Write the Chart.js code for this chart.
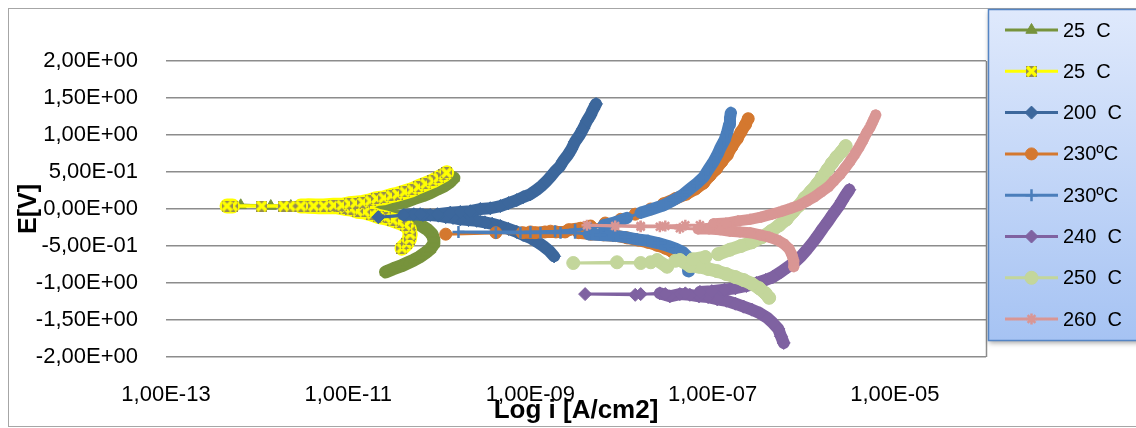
<!DOCTYPE html>
<html>
<head>
<meta charset="utf-8">
<script src="https://cdn.jsdelivr.net/npm/chart.js@4.4.1/dist/chart.umd.min.js"></script>
<style>
  html, body { margin: 0; padding: 0; background: #ffffff; overflow: hidden; }
  canvas { display: block; }
</style>
</head>
<body>
<canvas id="tafel" width="1136" height="428"></canvas>
<script>
// Potentiodynamic polarization curves: potential E [V] against current density (log scale).
// Each series runs cathodic branch -> low-current region near Ecorr -> anodic branch.

const seriesNames = ['25  C', '25  C', '200  C', '230\u00BAC', '230\u00BAC', '240  C', '250  C', '260  C'];

// log10 of current density [A/cm2] and potential [V]
const logI_25a = [-10.59,-10.51,-10.42,-10.35,-10.28,-10.22,-10.15,-10.10,-10.06,-10.06,
  -10.08,-10.13,-10.19,-10.27,-10.35,-10.42,-10.51,-10.60,-10.69,-10.78,-10.86,
  -11.03,-11.25,-11.52,-11.85,-12.18,
  -11.63,-11.30,-11.08,-10.92,-10.78,-10.64,-10.51,-10.39,-10.28,-10.18,-10.10,-10.02,-9.95,-9.89,-9.84];
const e_25a = [-0.85,-0.81,-0.77,-0.73,-0.69,-0.65,-0.59,-0.54,-0.47,-0.41,
  -0.34,-0.28,-0.23,-0.18,-0.14,-0.11,-0.08,-0.05,-0.04,-0.03,-0.01,
  0.01,0.03,0.04,0.04,0.05,
  0.04,0.03,0.03,0.03,0.03,0.04,0.07,0.09,0.14,0.18,0.22,0.27,0.31,0.36,0.42];

const logI_25b = [-10.41,-10.36,-10.33,-10.32,-10.33,-10.37,-10.44,-10.51,-10.59,-10.67,-10.74,-10.82,-10.90,-10.97,-11.04,
  -11.12,-11.21,-11.32,-11.44,-11.64,-11.95,-12.27,-12.33,
  -11.71,-11.52,-11.38,-11.27,-11.16,-11.07,-10.99,-10.92,-10.84,-10.76,-10.69,-10.61,-10.53,-10.46,-10.38,-10.30,-10.23,-10.15,-10.07,-10.01,-9.95,-9.92];
const e_25b = [-0.53,-0.47,-0.41,-0.34,-0.27,-0.22,-0.18,-0.15,-0.12,-0.10,-0.07,-0.04,-0.03,0.00,0.01,
  0.03,0.03,0.03,0.04,0.04,0.04,0.04,0.04,
  0.04,0.04,0.04,0.04,0.05,0.05,0.07,0.08,0.09,0.11,0.14,0.15,0.18,0.20,0.23,0.26,0.30,0.34,0.38,0.42,0.46,0.49];

const logI_200 = [-8.74,-8.79,-8.86,-8.92,-9.00,-9.08,-9.15,-9.24,-9.33,-9.42,-9.50,-9.59,-9.68,-9.77,-9.85,-9.93,
  -10.01,-10.10,-10.18,-10.28,-10.39,-10.67,
  -10.21,-10.02,-9.88,-9.77,-9.66,-9.55,-9.44,-9.33,-9.24,-9.15,-9.08,-9.00,-8.93,-8.88,-8.82,-8.77,-8.73,-8.68,-8.64,-8.59,-8.55,-8.51,-8.46,-8.42,-8.38,-8.34,-8.31,-8.28];
const e_200 = [-0.64,-0.57,-0.50,-0.45,-0.39,-0.35,-0.31,-0.27,-0.23,-0.20,-0.18,-0.16,-0.15,-0.14,-0.12,-0.11,
  -0.09,-0.08,-0.08,-0.07,-0.08,-0.11,
  -0.07,-0.07,-0.05,-0.04,-0.03,0.00,0.01,0.04,0.08,0.12,0.16,0.20,0.26,0.31,0.38,0.45,0.51,0.57,0.65,0.73,0.81,0.91,1.00,1.09,1.19,1.27,1.35,1.42];

const logI_230a = [-7.38,-7.44,-7.52,-7.61,-7.71,-7.82,-7.94,-8.07,-8.20,-8.34,-8.47,
  -8.62,-8.72,-8.84,-8.95,-9.09,-9.38,-9.93,
  -9.00,-8.78,-8.58,-8.45,-8.34,-8.18,-8.01,-7.85,-7.68,-7.54,-7.41,-7.29,-7.19,-7.10,-7.03,-6.96,-6.90,-6.84,-6.79,-6.73,-6.69,-6.64,-6.61];
const e_230a = [-0.64,-0.58,-0.53,-0.49,-0.45,-0.42,-0.39,-0.36,-0.35,-0.34,-0.32,
  -0.31,-0.31,-0.31,-0.32,-0.32,-0.32,-0.34,
  -0.31,-0.30,-0.28,-0.26,-0.23,-0.19,-0.14,-0.07,0.00,0.07,0.14,0.20,0.27,0.35,0.45,0.54,0.64,0.73,0.84,0.95,1.04,1.14,1.22];

const logI_230b = [-7.26,-7.27,-7.28,-7.33,-7.40,-7.49,-7.60,-7.71,-7.83,-7.96,-8.09,-8.23,-8.36,-8.51,
  -8.67,-8.89,-9.11,-9.38,-9.79,
  -9.00,-8.73,-8.51,-8.34,-8.20,-8.07,-7.94,-7.79,-7.66,-7.54,-7.43,-7.33,-7.25,-7.17,-7.10,-7.05,-6.99,-6.95,-6.91,-6.87,-6.84,-6.82,-6.81,-6.80];
const e_230b = [-0.84,-0.74,-0.64,-0.58,-0.54,-0.50,-0.46,-0.43,-0.41,-0.38,-0.36,-0.35,-0.34,-0.32,
  -0.32,-0.32,-0.32,-0.32,-0.31,
  -0.31,-0.30,-0.28,-0.26,-0.22,-0.18,-0.12,-0.05,0.00,0.05,0.12,0.19,0.27,0.35,0.43,0.53,0.64,0.73,0.84,0.93,1.04,1.14,1.23,1.30];

const logI_240 = [-6.22,-6.25,-6.28,-6.34,-6.40,-6.48,-6.57,-6.66,-6.75,-6.85,-6.95,-7.05,-7.15,-7.25,
  -7.36,-7.47,-7.58,-7.85,-8.40,
  -7.79,-7.52,-7.30,-7.14,-7.01,-6.87,-6.75,-6.63,-6.52,-6.42,-6.34,-6.25,-6.17,-6.10,-6.03,-5.96,-5.90,-5.84,-5.79,-5.73,-5.68,-5.62,-5.58,-5.54,-5.50];
const e_240 = [-1.81,-1.72,-1.62,-1.54,-1.47,-1.41,-1.36,-1.32,-1.28,-1.24,-1.22,-1.19,-1.18,-1.16,
  -1.15,-1.18,-1.14,-1.16,-1.15,
  -1.15,-1.15,-1.14,-1.12,-1.11,-1.09,-1.07,-1.04,-1.00,-0.96,-0.92,-0.85,-0.78,-0.72,-0.64,-0.54,-0.45,-0.35,-0.26,-0.16,-0.07,0.03,0.11,0.19,0.26];

const logI_250 = [-6.38,-6.42,-6.49,-6.57,-6.66,-6.75,-6.85,-6.95,-7.05,-7.15,-7.25,
  -7.36,-7.50,-7.61,-7.79,-8.05,-8.53,
  -7.68,-7.41,-7.22,-7.08,-6.94,-6.81,-6.69,-6.57,-6.46,-6.36,-6.27,-6.19,-6.12,-6.05,-5.99,-5.92,-5.85,-5.80,-5.74,-5.69,-5.64,-5.58,-5.54];
const e_250 = [-1.20,-1.14,-1.07,-1.01,-0.96,-0.92,-0.88,-0.84,-0.81,-0.78,-0.77,
  -0.69,-0.78,-0.69,-0.73,-0.72,-0.73,
  -0.72,-0.70,-0.68,-0.65,-0.61,-0.55,-0.50,-0.45,-0.38,-0.30,-0.22,-0.14,-0.04,0.05,0.15,0.24,0.34,0.43,0.53,0.62,0.70,0.78,0.85];

const logI_260 = [-6.11,-6.11,-6.13,-6.16,-6.22,-6.29,-6.38,-6.48,-6.59,-6.70,-6.81,-6.92,-7.04,-7.16,
  -7.36,-7.58,-7.79,-8.07,-8.38,
  -7.79,-7.52,-7.30,-7.14,-6.99,-6.85,-6.72,-6.59,-6.47,-6.35,-6.24,-6.14,-6.05,-5.96,-5.89,-5.81,-5.73,-5.67,-5.60,-5.55,-5.49,-5.44,-5.39,-5.35,-5.31,-5.27,-5.24,-5.21];
const e_260 = [-0.78,-0.70,-0.62,-0.54,-0.47,-0.42,-0.38,-0.35,-0.32,-0.31,-0.30,-0.28,-0.27,-0.27,
  -0.26,-0.24,-0.24,-0.23,-0.22,
  -0.23,-0.23,-0.22,-0.22,-0.20,-0.19,-0.16,-0.14,-0.11,-0.07,-0.03,0.01,0.05,0.11,0.16,0.23,0.30,0.38,0.47,0.55,0.65,0.74,0.84,0.93,1.03,1.11,1.19,1.27];

// axis ticks
const xTickValues = [1e-13, 1e-11, 1e-9, 1e-7, 1e-5];
const xTickLabels = ['1,00E-13', '1,00E-11', '1,00E-09', '1,00E-07', '1,00E-05'];
const yTickValues = [-2, -1.5, -1, -0.5, 0, 0.5, 1, 1.5, 2];
const yTickLabels = ['-2,00E+00', '-1,50E+00', '-1,00E+00', '-5,00E-01', '0,00E+00',
                     '5,00E-01', '1,00E+00', '1,50E+00', '2,00E+00'];

// ---------------------------------------------------------------------------

const FONT = "'Liberation Sans', Arial, sans-serif";

function toPoints(logI, e) {
  const n = Math.min(logI.length, e.length);
  const out = [];
  for (let k = 0; k < n; k++) out.push({ x: Math.pow(10, logI[k]), y: e[k] });
  return out;
}

// square marker with a diagonal cross, olive fill
function boxCrossMarker(size) {
  const c = document.createElement('canvas');
  c.width = size; c.height = size;
  const g = c.getContext('2d');
  g.fillStyle = '#948a54';
  g.fillRect(0, 0, size, size);
  g.strokeStyle = '#ffff00';
  g.lineWidth = 3.5;
  g.beginPath();
  g.moveTo(1, 1); g.lineTo(size - 1, size - 1);
  g.moveTo(size - 1, 1); g.lineTo(1, size - 1);
  g.stroke();
  return c;
}

const styles = [
  { color: '#77933c', pointStyle: 'triangle', radius: 6.5, pbw: 1, band: 13 },
  { color: '#ffff00', pointStyle: boxCrossMarker(11), radius: 6, pbw: 0, band: 15 },
  { color: '#3c679c', pointStyle: 'rectRot', radius: 6.5, pbw: 1, band: 12 },
  { color: '#d4782f', pointStyle: 'circle', radius: 6, pbw: 1, band: 12 },
  { color: '#4a7ebb', pointStyle: 'cross', radius: 6, pbw: 2.5, band: 12 },
  { color: '#7f62a1', pointStyle: 'rectRot', radius: 6.5, pbw: 1, band: 12 },
  { color: '#c3d69b', pointStyle: 'circle', radius: 6.5, pbw: 1, band: 13 },
  { color: '#d99694', pointStyle: 'star', radius: 5.5, pbw: 2.5, band: 11 }
];

const seriesData = [
  toPoints(logI_25a, e_25a), toPoints(logI_25b, e_25b), toPoints(logI_200, e_200),
  toPoints(logI_230a, e_230a), toPoints(logI_230b, e_230b), toPoints(logI_240, e_240),
  toPoints(logI_250, e_250), toPoints(logI_260, e_260)
];

// closely spaced readings merge into a solid band; sparse ones keep a thin connector
function segWidth(band) {
  return c => (Math.hypot(c.p1.x - c.p0.x, c.p1.y - c.p0.y) < 13 ? band : 3);
}

const datasets = seriesData.map((pts, k) => ({
  label: seriesNames[k],
  data: pts,
  showLine: true,
  borderColor: styles[k].color,
  backgroundColor: styles[k].color,
  borderWidth: 3,
  borderCapStyle: 'round',
  borderJoinStyle: 'round',
  segment: { borderWidth: segWidth(styles[k].band) },
  pointStyle: styles[k].pointStyle,
  pointRadius: styles[k].radius,
  pointBorderWidth: styles[k].pbw,
  pointBorderColor: styles[k].color,
  pointBackgroundColor: styles[k].color,
  tension: 0,
  order: seriesData.length - k   // later series are painted over earlier ones
}));

// chart frame, plot border and the boxed legend on the right
const framePlugin = {
  id: 'frame',
  beforeDraw(chart) {
    const ctx = chart.ctx;
    ctx.save();
    ctx.fillStyle = '#ffffff';
    ctx.fillRect(0, 0, chart.width, chart.height);
    ctx.strokeStyle = '#a6a6a6';
    ctx.lineWidth = 1;
    ctx.strokeRect(8.5, 8.5, chart.width + 20, 418);
    ctx.restore();
  },
  afterDraw(chart) {
    const ctx = chart.ctx;
    const area = chart.chartArea;
    ctx.save();
    // right edge of the plot area
    ctx.strokeStyle = '#8c8c8c';
    ctx.lineWidth = 1.5;
    ctx.beginPath();
    ctx.moveTo(area.right + 0.5, area.top);
    ctx.lineTo(area.right + 0.5, area.bottom);
    ctx.stroke();

    // legend box
    const bx = 988, by = 9, bw = 170, bh = 331;
    ctx.shadowColor = 'rgba(0,0,0,0.35)';
    ctx.shadowBlur = 5;
    ctx.shadowOffsetX = 1;
    ctx.shadowOffsetY = 3;
    const grad = ctx.createLinearGradient(0, by, 0, by + bh);
    grad.addColorStop(0, '#dfe9fc');
    grad.addColorStop(1, '#a6c3f3');
    ctx.fillStyle = grad;
    ctx.fillRect(bx, by, bw, bh);
    ctx.shadowColor = 'transparent';
    ctx.strokeStyle = '#5585c4';
    ctx.lineWidth = 1.5;
    ctx.strokeRect(bx + 0.5, by + 0.5, bw, bh);

    const drawPoint = Chart.helpers && Chart.helpers.drawPoint;
    chart.data.datasets.forEach((ds, k) => {
      const y = 30 + k * 41.3;
      ctx.strokeStyle = ds.borderColor;
      ctx.lineWidth = 3;
      ctx.lineCap = 'butt';
      ctx.beginPath();
      ctx.moveTo(1005, y);
      ctx.lineTo(1058, y);
      ctx.stroke();
      ctx.fillStyle = ds.pointBackgroundColor;
      ctx.strokeStyle = ds.pointBorderColor;
      ctx.lineWidth = ds.pointBorderWidth;
      if (drawPoint) {
        drawPoint(ctx, { pointStyle: ds.pointStyle, rotation: 0, radius: ds.pointRadius,
                         borderWidth: ds.pointBorderWidth }, 1031.5, y);
      }
      ctx.fillStyle = '#000000';
      ctx.font = '20px ' + FONT;
      ctx.textAlign = 'left';
      ctx.textBaseline = 'middle';
      ctx.fillText(ds.label, 1063, y + 1);
    });
    ctx.restore();
  }
};

new Chart(document.getElementById('tafel'), {
  type: 'scatter',
  data: { datasets },
  options: {
    responsive: false,
    animation: false,
    devicePixelRatio: 1,
    layout: { padding: { left: 0, top: 61, right: 150, bottom: 0 } },
    plugins: { legend: { display: false }, tooltip: { enabled: false } },
    scales: {
      x: {
        type: 'logarithmic',
        position: 'bottom',
        min: 1e-13,
        max: 1e-4,
        afterBuildTicks(scale) { scale.ticks = xTickValues.map(v => ({ value: v, major: true })); },
        afterFit(scale) { scale.height = 71; },
        ticks: {
          autoSkip: false,
          maxRotation: 0,
          padding: 25,
          color: '#000000',
          font: { family: FONT, size: 22 },
          callback: (v, i) => xTickLabels[i]
        },
        grid: { display: false, drawTicks: false },
        border: { display: false },
        title: {
          display: true,
          text: 'Log i [A/cm2]',
          color: '#000000',
          font: { family: FONT, size: 26, weight: 'bold' },
          padding: { top: 0, bottom: 2 }
        }
      },
      y: {
        type: 'linear',
        position: 'left',
        min: -2,
        max: 2,
        afterBuildTicks(scale) { scale.ticks = yTickValues.map(v => ({ value: v })); },
        afterFit(scale) { scale.width = 166; },
        ticks: {
          padding: 28,
          color: '#000000',
          font: { family: FONT, size: 22 },
          callback: (v, i) => yTickLabels[i]
        },
        grid: { color: '#8c8c8c', lineWidth: 1.5, drawTicks: false },
        border: { display: false },
        title: {
          display: true,
          text: 'E[V]',
          color: '#000000',
          font: { family: FONT, size: 25, weight: 'bold' },
          padding: { top: 14, bottom: 0 }
        }
      }
    }
  },
  plugins: [framePlugin]
});
</script>
</body>
</html>
